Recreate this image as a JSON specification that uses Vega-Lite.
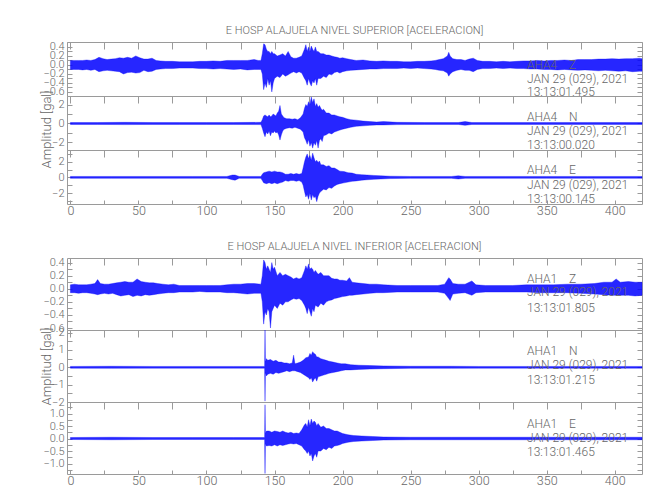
{
"$schema":"https://vega.github.io/schema/vega-lite/v6.json",
"padding":{"left":39,"top":24,"right":7,"bottom":11},
"config":{"view":{"stroke":"#9a9a9a","strokeWidth":1},"font":"Roboto","axis":{"domain":false,"grid":false,"labelFont":"Roboto","labelFontWeight":300,"labelColor":"#666666","labelFontSize":11,"tickColor":"#9a9a9a","titleFont":"Roboto","titleColor":"#666666","titleFontSize":13,"titleFontWeight":300,"labelOverlap":false,"labelFlush":false},"title":{"font":"Roboto","fontSize":11,"fontWeight":300,"color":"#666666","anchor":"middle","offset":5},"text":{"font":"Roboto","fontWeight":300}},
"datasets":{
"uz":[{"t":0,"lo":-0.1,"hi":0.1},{"t":3,"lo":-0.1,"hi":0.1},{"t":6,"lo":-0.1,"hi":0.1},{"t":9,"lo":-0.11,"hi":0.1},{"t":12,"lo":-0.1,"hi":0.11},{"t":15,"lo":-0.12,"hi":0.1},{"t":18,"lo":-0.1,"hi":0.12},{"t":21,"lo":-0.15,"hi":0.17},{"t":24,"lo":-0.13,"hi":0.14},{"t":27,"lo":-0.12,"hi":0.12},{"t":30,"lo":-0.13,"hi":0.13},{"t":33,"lo":-0.14,"hi":0.14},{"t":36,"lo":-0.15,"hi":0.16},{"t":39,"lo":-0.2,"hi":0.15},{"t":42,"lo":-0.17,"hi":0.17},{"t":45,"lo":-0.16,"hi":0.15},{"t":48,"lo":-0.18,"hi":0.2},{"t":51,"lo":-0.17,"hi":0.16},{"t":54,"lo":-0.12,"hi":0.13},{"t":57,"lo":-0.15,"hi":0.13},{"t":60,"lo":-0.14,"hi":0.15},{"t":63,"lo":-0.1,"hi":0.1},{"t":66,"lo":-0.09,"hi":0.09},{"t":70,"lo":-0.08,"hi":0.08},{"t":75,"lo":-0.08,"hi":0.08},{"t":80,"lo":-0.07,"hi":0.07},{"t":85,"lo":-0.07,"hi":0.07},{"t":90,"lo":-0.07,"hi":0.07},{"t":95,"lo":-0.08,"hi":0.08},{"t":100,"lo":-0.08,"hi":0.08},{"t":105,"lo":-0.09,"hi":0.09},{"t":110,"lo":-0.08,"hi":0.08},{"t":115,"lo":-0.09,"hi":0.1},{"t":120,"lo":-0.1,"hi":0.1},{"t":125,"lo":-0.09,"hi":0.1},{"t":130,"lo":-0.11,"hi":0.1},{"t":135,"lo":-0.1,"hi":0.12},{"t":138,"lo":-0.1,"hi":0.1},{"t":140,"lo":-0.1,"hi":0.1},{"t":141,"lo":-0.2,"hi":0.25},{"t":142,"lo":-0.55,"hi":0.47},{"t":143,"lo":-0.4,"hi":0.45},{"t":144,"lo":-0.5,"hi":0.35},{"t":145,"lo":-0.3,"hi":0.3},{"t":146,"lo":-0.45,"hi":0.3},{"t":147,"lo":-0.35,"hi":0.25},{"t":148,"lo":-0.6,"hi":0.3},{"t":149,"lo":-0.4,"hi":0.25},{"t":150,"lo":-0.3,"hi":0.25},{"t":152,"lo":-0.25,"hi":0.2},{"t":154,"lo":-0.28,"hi":0.22},{"t":156,"lo":-0.2,"hi":0.25},{"t":158,"lo":-0.25,"hi":0.2},{"t":160,"lo":-0.22,"hi":0.3},{"t":162,"lo":-0.18,"hi":0.18},{"t":164,"lo":-0.15,"hi":0.15},{"t":166,"lo":-0.18,"hi":0.15},{"t":168,"lo":-0.15,"hi":0.17},{"t":170,"lo":-0.18,"hi":0.2},{"t":172,"lo":-0.3,"hi":0.35},{"t":173,"lo":-0.35,"hi":0.45},{"t":174,"lo":-0.45,"hi":0.3},{"t":175,"lo":-0.3,"hi":0.4},{"t":176,"lo":-0.4,"hi":0.3},{"t":177,"lo":-0.47,"hi":0.42},{"t":178,"lo":-0.35,"hi":0.35},{"t":179,"lo":-0.4,"hi":0.3},{"t":180,"lo":-0.3,"hi":0.4},{"t":181,"lo":-0.45,"hi":0.3},{"t":182,"lo":-0.3,"hi":0.3},{"t":184,"lo":-0.3,"hi":0.25},{"t":186,"lo":-0.25,"hi":0.25},{"t":188,"lo":-0.28,"hi":0.22},{"t":190,"lo":-0.2,"hi":0.22},{"t":192,"lo":-0.22,"hi":0.2},{"t":194,"lo":-0.17,"hi":0.18},{"t":196,"lo":-0.15,"hi":0.17},{"t":198,"lo":-0.18,"hi":0.15},{"t":200,"lo":-0.15,"hi":0.16},{"t":203,"lo":-0.13,"hi":0.14},{"t":206,"lo":-0.12,"hi":0.12},{"t":210,"lo":-0.11,"hi":0.1},{"t":215,"lo":-0.1,"hi":0.11},{"t":220,"lo":-0.09,"hi":0.09},{"t":225,"lo":-0.09,"hi":0.08},{"t":230,"lo":-0.08,"hi":0.09},{"t":235,"lo":-0.08,"hi":0.08},{"t":240,"lo":-0.08,"hi":0.08},{"t":245,"lo":-0.07,"hi":0.07},{"t":250,"lo":-0.08,"hi":0.07},{"t":255,"lo":-0.07,"hi":0.08},{"t":260,"lo":-0.08,"hi":0.08},{"t":265,"lo":-0.09,"hi":0.09},{"t":268,"lo":-0.1,"hi":0.1},{"t":271,"lo":-0.12,"hi":0.12},{"t":274,"lo":-0.13,"hi":0.14},{"t":277,"lo":-0.18,"hi":0.2},{"t":278,"lo":-0.25,"hi":0.28},{"t":279,"lo":-0.2,"hi":0.2},{"t":281,"lo":-0.15,"hi":0.14},{"t":284,"lo":-0.12,"hi":0.12},{"t":287,"lo":-0.1,"hi":0.12},{"t":290,"lo":-0.12,"hi":0.1},{"t":293,"lo":-0.12,"hi":0.13},{"t":296,"lo":-0.15,"hi":0.15},{"t":299,"lo":-0.1,"hi":0.1},{"t":303,"lo":-0.08,"hi":0.08},{"t":308,"lo":-0.08,"hi":0.08},{"t":313,"lo":-0.07,"hi":0.07},{"t":318,"lo":-0.08,"hi":0.08},{"t":323,"lo":-0.07,"hi":0.07},{"t":328,"lo":-0.08,"hi":0.08},{"t":333,"lo":-0.08,"hi":0.09},{"t":338,"lo":-0.09,"hi":0.09},{"t":343,"lo":-0.09,"hi":0.1},{"t":348,"lo":-0.1,"hi":0.09},{"t":353,"lo":-0.1,"hi":0.1},{"t":358,"lo":-0.11,"hi":0.1},{"t":363,"lo":-0.1,"hi":0.11},{"t":368,"lo":-0.11,"hi":0.1},{"t":373,"lo":-0.12,"hi":0.12},{"t":378,"lo":-0.11,"hi":0.12},{"t":383,"lo":-0.12,"hi":0.12},{"t":388,"lo":-0.13,"hi":0.13},{"t":393,"lo":-0.12,"hi":0.13},{"t":398,"lo":-0.13,"hi":0.14},{"t":403,"lo":-0.14,"hi":0.13},{"t":408,"lo":-0.13,"hi":0.14},{"t":413,"lo":-0.15,"hi":0.14},{"t":418,"lo":-0.14,"hi":0.15},{"t":420,"lo":-0.14,"hi":0.14}],
"un":[{"t":0,"lo":-0.1,"hi":0.1},{"t":20,"lo":-0.1,"hi":0.1},{"t":40,"lo":-0.12,"hi":0.12},{"t":60,"lo":-0.1,"hi":0.1},{"t":80,"lo":-0.1,"hi":0.1},{"t":100,"lo":-0.1,"hi":0.1},{"t":120,"lo":-0.1,"hi":0.1},{"t":140,"lo":-0.12,"hi":0.12},{"t":141,"lo":-0.5,"hi":0.4},{"t":142,"lo":-1.0,"hi":0.8},{"t":143,"lo":-1.4,"hi":0.9},{"t":144,"lo":-0.9,"hi":0.8},{"t":145,"lo":-1.1,"hi":0.7},{"t":146,"lo":-0.8,"hi":0.9},{"t":147,"lo":-1.3,"hi":0.7},{"t":148,"lo":-0.9,"hi":0.8},{"t":149,"lo":-1.0,"hi":1.0},{"t":150,"lo":-0.8,"hi":0.9},{"t":151,"lo":-1.0,"hi":0.8},{"t":152,"lo":-0.9,"hi":1.1},{"t":153,"lo":-1.2,"hi":1.3},{"t":154,"lo":-1.75,"hi":1.9},{"t":155,"lo":-1.2,"hi":1.0},{"t":156,"lo":-0.8,"hi":0.8},{"t":157,"lo":-0.6,"hi":0.6},{"t":159,"lo":-0.5,"hi":0.5},{"t":161,"lo":-0.45,"hi":0.5},{"t":163,"lo":-0.5,"hi":0.45},{"t":165,"lo":-0.4,"hi":0.5},{"t":167,"lo":-0.5,"hi":0.4},{"t":169,"lo":-0.6,"hi":0.6},{"t":171,"lo":-0.9,"hi":1.0},{"t":172,"lo":-1.5,"hi":1.6},{"t":173,"lo":-1.8,"hi":2.0},{"t":174,"lo":-2.2,"hi":1.8},{"t":175,"lo":-1.7,"hi":2.3},{"t":176,"lo":-2.4,"hi":2.0},{"t":177,"lo":-2.0,"hi":2.8},{"t":178,"lo":-2.6,"hi":2.2},{"t":179,"lo":-2.0,"hi":2.6},{"t":180,"lo":-2.3,"hi":1.8},{"t":181,"lo":-1.8,"hi":2.1},{"t":182,"lo":-2.6,"hi":1.7},{"t":183,"lo":-1.8,"hi":1.9},{"t":184,"lo":-1.6,"hi":1.6},{"t":185,"lo":-1.9,"hi":1.4},{"t":186,"lo":-1.3,"hi":1.5},{"t":188,"lo":-1.2,"hi":1.1},{"t":190,"lo":-1.0,"hi":1.1},{"t":192,"lo":-1.1,"hi":0.9},{"t":194,"lo":-0.9,"hi":0.9},{"t":196,"lo":-0.8,"hi":0.8},{"t":198,"lo":-0.7,"hi":0.7},{"t":200,"lo":-0.6,"hi":0.65},{"t":203,"lo":-0.5,"hi":0.5},{"t":206,"lo":-0.4,"hi":0.4},{"t":210,"lo":-0.3,"hi":0.35},{"t":215,"lo":-0.25,"hi":0.25},{"t":220,"lo":-0.2,"hi":0.2},{"t":225,"lo":-0.15,"hi":0.15},{"t":230,"lo":-0.15,"hi":0.2},{"t":240,"lo":-0.12,"hi":0.12},{"t":260,"lo":-0.1,"hi":0.1},{"t":285,"lo":-0.1,"hi":0.1},{"t":290,"lo":-0.2,"hi":0.2},{"t":295,"lo":-0.1,"hi":0.1},{"t":320,"lo":-0.1,"hi":0.1},{"t":350,"lo":-0.1,"hi":0.1},{"t":380,"lo":-0.1,"hi":0.1},{"t":420,"lo":-0.1,"hi":0.1}],
"ue":[{"t":0,"lo":-0.12,"hi":0.12},{"t":30,"lo":-0.12,"hi":0.12},{"t":60,"lo":-0.12,"hi":0.12},{"t":90,"lo":-0.12,"hi":0.12},{"t":115,"lo":-0.12,"hi":0.12},{"t":119,"lo":-0.3,"hi":0.3},{"t":121,"lo":-0.35,"hi":0.3},{"t":124,"lo":-0.12,"hi":0.12},{"t":140,"lo":-0.12,"hi":0.12},{"t":141,"lo":-0.4,"hi":0.4},{"t":142,"lo":-0.7,"hi":0.6},{"t":144,"lo":-0.8,"hi":0.7},{"t":146,"lo":-0.7,"hi":0.8},{"t":148,"lo":-0.8,"hi":0.7},{"t":150,"lo":-0.7,"hi":0.8},{"t":152,"lo":-0.8,"hi":0.7},{"t":154,"lo":-0.7,"hi":0.7},{"t":156,"lo":-0.6,"hi":0.6},{"t":158,"lo":-0.4,"hi":0.4},{"t":160,"lo":-0.5,"hi":0.4},{"t":162,"lo":-0.4,"hi":0.5},{"t":164,"lo":-0.4,"hi":0.4},{"t":166,"lo":-0.5,"hi":0.5},{"t":168,"lo":-0.4,"hi":0.4},{"t":170,"lo":-0.6,"hi":0.5},{"t":171,"lo":-1.0,"hi":1.2},{"t":172,"lo":-1.8,"hi":2.0},{"t":173,"lo":-2.5,"hi":2.6},{"t":174,"lo":-2.2,"hi":3.0},{"t":175,"lo":-2.8,"hi":2.4},{"t":176,"lo":-2.0,"hi":2.8},{"t":177,"lo":-2.9,"hi":2.2},{"t":178,"lo":-2.2,"hi":3.1},{"t":179,"lo":-2.6,"hi":2.5},{"t":180,"lo":-2.4,"hi":2.0},{"t":181,"lo":-3.1,"hi":2.2},{"t":182,"lo":-2.4,"hi":1.9},{"t":183,"lo":-2.0,"hi":2.1},{"t":184,"lo":-1.8,"hi":1.6},{"t":186,"lo":-1.5,"hi":1.6},{"t":188,"lo":-1.6,"hi":1.4},{"t":190,"lo":-1.3,"hi":1.5},{"t":192,"lo":-1.4,"hi":1.2},{"t":194,"lo":-1.1,"hi":1.2},{"t":196,"lo":-0.9,"hi":1.0},{"t":198,"lo":-0.8,"hi":0.8},{"t":201,"lo":-0.7,"hi":0.75},{"t":204,"lo":-0.6,"hi":0.6},{"t":207,"lo":-0.5,"hi":0.55},{"t":210,"lo":-0.45,"hi":0.4},{"t":214,"lo":-0.35,"hi":0.35},{"t":218,"lo":-0.3,"hi":0.3},{"t":223,"lo":-0.25,"hi":0.25},{"t":228,"lo":-0.2,"hi":0.2},{"t":235,"lo":-0.15,"hi":0.15},{"t":250,"lo":-0.12,"hi":0.12},{"t":280,"lo":-0.12,"hi":0.12},{"t":285,"lo":-0.2,"hi":0.2},{"t":290,"lo":-0.12,"hi":0.12},{"t":320,"lo":-0.12,"hi":0.12},{"t":350,"lo":-0.12,"hi":0.12},{"t":380,"lo":-0.12,"hi":0.12},{"t":420,"lo":-0.12,"hi":0.12}],
"lz":[{"t":0,"lo":-0.06,"hi":0.06},{"t":3,"lo":-0.06,"hi":0.07},{"t":6,"lo":-0.07,"hi":0.06},{"t":9,"lo":-0.06,"hi":0.06},{"t":12,"lo":-0.06,"hi":0.06},{"t":15,"lo":-0.07,"hi":0.07},{"t":18,"lo":-0.08,"hi":0.08},{"t":20,"lo":-0.09,"hi":0.14},{"t":22,"lo":-0.08,"hi":0.08},{"t":25,"lo":-0.07,"hi":0.07},{"t":28,"lo":-0.08,"hi":0.07},{"t":31,"lo":-0.07,"hi":0.08},{"t":34,"lo":-0.09,"hi":0.09},{"t":37,"lo":-0.11,"hi":0.1},{"t":40,"lo":-0.1,"hi":0.11},{"t":43,"lo":-0.09,"hi":0.1},{"t":46,"lo":-0.12,"hi":0.1},{"t":49,"lo":-0.1,"hi":0.15},{"t":52,"lo":-0.11,"hi":0.11},{"t":55,"lo":-0.09,"hi":0.1},{"t":58,"lo":-0.1,"hi":0.09},{"t":61,"lo":-0.09,"hi":0.09},{"t":64,"lo":-0.08,"hi":0.08},{"t":68,"lo":-0.07,"hi":0.07},{"t":72,"lo":-0.06,"hi":0.06},{"t":76,"lo":-0.06,"hi":0.07},{"t":80,"lo":-0.05,"hi":0.05},{"t":85,"lo":-0.05,"hi":0.05},{"t":90,"lo":-0.05,"hi":0.05},{"t":95,"lo":-0.04,"hi":0.05},{"t":100,"lo":-0.05,"hi":0.05},{"t":105,"lo":-0.05,"hi":0.05},{"t":110,"lo":-0.05,"hi":0.05},{"t":115,"lo":-0.06,"hi":0.06},{"t":120,"lo":-0.06,"hi":0.07},{"t":125,"lo":-0.07,"hi":0.07},{"t":130,"lo":-0.08,"hi":0.08},{"t":135,"lo":-0.07,"hi":0.08},{"t":140,"lo":-0.07,"hi":0.07},{"t":141,"lo":-0.2,"hi":0.2},{"t":142,"lo":-0.54,"hi":0.44},{"t":143,"lo":-0.35,"hi":0.4},{"t":144,"lo":-0.4,"hi":0.3},{"t":145,"lo":-0.3,"hi":0.35},{"t":146,"lo":-0.35,"hi":0.3},{"t":147,"lo":-0.6,"hi":0.25},{"t":148,"lo":-0.35,"hi":0.4},{"t":149,"lo":-0.3,"hi":0.3},{"t":150,"lo":-0.25,"hi":0.33},{"t":152,"lo":-0.3,"hi":0.2},{"t":154,"lo":-0.22,"hi":0.25},{"t":156,"lo":-0.25,"hi":0.2},{"t":158,"lo":-0.2,"hi":0.22},{"t":160,"lo":-0.2,"hi":0.2},{"t":162,"lo":-0.17,"hi":0.18},{"t":164,"lo":-0.15,"hi":0.15},{"t":166,"lo":-0.16,"hi":0.17},{"t":168,"lo":-0.15,"hi":0.15},{"t":170,"lo":-0.18,"hi":0.17},{"t":172,"lo":-0.25,"hi":0.28},{"t":173,"lo":-0.3,"hi":0.35},{"t":174,"lo":-0.38,"hi":0.3},{"t":175,"lo":-0.28,"hi":0.38},{"t":176,"lo":-0.35,"hi":0.3},{"t":177,"lo":-0.42,"hi":0.32},{"t":178,"lo":-0.3,"hi":0.3},{"t":179,"lo":-0.35,"hi":0.25},{"t":180,"lo":-0.25,"hi":0.28},{"t":182,"lo":-0.28,"hi":0.22},{"t":184,"lo":-0.22,"hi":0.25},{"t":186,"lo":-0.25,"hi":0.2},{"t":188,"lo":-0.2,"hi":0.2},{"t":190,"lo":-0.18,"hi":0.2},{"t":192,"lo":-0.17,"hi":0.16},{"t":194,"lo":-0.15,"hi":0.15},{"t":196,"lo":-0.14,"hi":0.15},{"t":198,"lo":-0.13,"hi":0.13},{"t":200,"lo":-0.12,"hi":0.13},{"t":203,"lo":-0.11,"hi":0.12},{"t":205,"lo":-0.1,"hi":0.17},{"t":207,"lo":-0.1,"hi":0.1},{"t":210,"lo":-0.09,"hi":0.09},{"t":215,"lo":-0.08,"hi":0.08},{"t":220,"lo":-0.07,"hi":0.07},{"t":225,"lo":-0.06,"hi":0.07},{"t":230,"lo":-0.06,"hi":0.06},{"t":240,"lo":-0.05,"hi":0.05},{"t":250,"lo":-0.05,"hi":0.05},{"t":260,"lo":-0.05,"hi":0.05},{"t":270,"lo":-0.05,"hi":0.05},{"t":275,"lo":-0.07,"hi":0.07},{"t":278,"lo":-0.15,"hi":0.17},{"t":279,"lo":-0.18,"hi":0.15},{"t":281,"lo":-0.08,"hi":0.08},{"t":285,"lo":-0.07,"hi":0.07},{"t":290,"lo":-0.06,"hi":0.07},{"t":295,"lo":-0.1,"hi":0.12},{"t":298,"lo":-0.06,"hi":0.06},{"t":305,"lo":-0.05,"hi":0.05},{"t":315,"lo":-0.05,"hi":0.05},{"t":325,"lo":-0.05,"hi":0.05},{"t":335,"lo":-0.05,"hi":0.06},{"t":345,"lo":-0.06,"hi":0.06},{"t":355,"lo":-0.06,"hi":0.06},{"t":365,"lo":-0.06,"hi":0.07},{"t":375,"lo":-0.07,"hi":0.07},{"t":385,"lo":-0.08,"hi":0.08},{"t":392,"lo":-0.09,"hi":0.1},{"t":398,"lo":-0.1,"hi":0.1},{"t":401,"lo":-0.1,"hi":0.15},{"t":404,"lo":-0.1,"hi":0.1},{"t":410,"lo":-0.1,"hi":0.11},{"t":415,"lo":-0.11,"hi":0.1},{"t":420,"lo":-0.1,"hi":0.1}],
"ln":[{"t":0,"lo":-0.05,"hi":0.05},{"t":30,"lo":-0.06,"hi":0.06},{"t":60,"lo":-0.05,"hi":0.05},{"t":90,"lo":-0.05,"hi":0.05},{"t":120,"lo":-0.05,"hi":0.05},{"t":142.7,"lo":-0.05,"hi":0.05},{"t":143,"lo":-1.95,"hi":2.15},{"t":143.3,"lo":-0.3,"hi":0.3},{"t":144,"lo":-0.5,"hi":0.5},{"t":145,"lo":-0.4,"hi":0.4},{"t":147,"lo":-0.35,"hi":0.45},{"t":149,"lo":-0.4,"hi":0.35},{"t":151,"lo":-0.3,"hi":0.4},{"t":153,"lo":-0.35,"hi":0.3},{"t":155,"lo":-0.3,"hi":0.3},{"t":157,"lo":-0.25,"hi":0.25},{"t":159,"lo":-0.2,"hi":0.25},{"t":161,"lo":-0.25,"hi":0.2},{"t":163,"lo":-0.2,"hi":0.25},{"t":164,"lo":-0.2,"hi":0.7},{"t":165,"lo":-0.2,"hi":0.2},{"t":167,"lo":-0.25,"hi":0.25},{"t":169,"lo":-0.3,"hi":0.3},{"t":171,"lo":-0.4,"hi":0.4},{"t":173,"lo":-0.5,"hi":0.55},{"t":175,"lo":-0.6,"hi":0.6},{"t":176,"lo":-0.7,"hi":0.8},{"t":177,"lo":-0.6,"hi":0.7},{"t":178,"lo":-0.85,"hi":0.9},{"t":179,"lo":-0.7,"hi":0.8},{"t":180,"lo":-0.6,"hi":0.75},{"t":181,"lo":-0.8,"hi":0.6},{"t":182,"lo":-0.55,"hi":0.6},{"t":184,"lo":-0.5,"hi":0.5},{"t":186,"lo":-0.45,"hi":0.45},{"t":188,"lo":-0.4,"hi":0.4},{"t":190,"lo":-0.35,"hi":0.35},{"t":193,"lo":-0.3,"hi":0.3},{"t":196,"lo":-0.25,"hi":0.25},{"t":199,"lo":-0.2,"hi":0.2},{"t":202,"lo":-0.15,"hi":0.2},{"t":206,"lo":-0.15,"hi":0.15},{"t":212,"lo":-0.12,"hi":0.12},{"t":220,"lo":-0.1,"hi":0.1},{"t":230,"lo":-0.08,"hi":0.08},{"t":250,"lo":-0.06,"hi":0.06},{"t":280,"lo":-0.06,"hi":0.06},{"t":300,"lo":-0.05,"hi":0.05},{"t":350,"lo":-0.05,"hi":0.05},{"t":420,"lo":-0.05,"hi":0.05}],
"le":[{"t":0,"lo":-0.04,"hi":0.04},{"t":30,"lo":-0.05,"hi":0.05},{"t":60,"lo":-0.04,"hi":0.04},{"t":90,"lo":-0.04,"hi":0.04},{"t":120,"lo":-0.04,"hi":0.04},{"t":142.7,"lo":-0.04,"hi":0.04},{"t":143,"lo":-1.4,"hi":1.35},{"t":143.3,"lo":-0.2,"hi":0.2},{"t":144,"lo":-0.3,"hi":0.3},{"t":146,"lo":-0.28,"hi":0.3},{"t":148,"lo":-0.3,"hi":0.25},{"t":150,"lo":-0.25,"hi":0.3},{"t":152,"lo":-0.3,"hi":0.28},{"t":154,"lo":-0.25,"hi":0.25},{"t":156,"lo":-0.28,"hi":0.3},{"t":158,"lo":-0.25,"hi":0.25},{"t":160,"lo":-0.22,"hi":0.22},{"t":162,"lo":-0.2,"hi":0.25},{"t":164,"lo":-0.22,"hi":0.2},{"t":166,"lo":-0.2,"hi":0.22},{"t":168,"lo":-0.25,"hi":0.2},{"t":170,"lo":-0.3,"hi":0.35},{"t":172,"lo":-0.45,"hi":0.55},{"t":173,"lo":-0.5,"hi":0.6},{"t":174,"lo":-0.6,"hi":0.45},{"t":175,"lo":-0.5,"hi":0.75},{"t":176,"lo":-0.7,"hi":0.5},{"t":177,"lo":-0.6,"hi":0.78},{"t":178,"lo":-0.9,"hi":0.6},{"t":179,"lo":-0.7,"hi":0.7},{"t":180,"lo":-0.6,"hi":0.65},{"t":181,"lo":-0.75,"hi":0.5},{"t":182,"lo":-0.5,"hi":0.6},{"t":184,"lo":-0.5,"hi":0.45},{"t":186,"lo":-0.4,"hi":0.5},{"t":188,"lo":-0.45,"hi":0.4},{"t":190,"lo":-0.35,"hi":0.4},{"t":192,"lo":-0.4,"hi":0.35},{"t":194,"lo":-0.3,"hi":0.3},{"t":196,"lo":-0.28,"hi":0.3},{"t":198,"lo":-0.25,"hi":0.25},{"t":200,"lo":-0.2,"hi":0.2},{"t":204,"lo":-0.15,"hi":0.15},{"t":208,"lo":-0.12,"hi":0.12},{"t":214,"lo":-0.1,"hi":0.1},{"t":222,"lo":-0.08,"hi":0.08},{"t":230,"lo":-0.06,"hi":0.06},{"t":250,"lo":-0.05,"hi":0.05},{"t":280,"lo":-0.05,"hi":0.05},{"t":310,"lo":-0.05,"hi":0.05},{"t":350,"lo":-0.05,"hi":0.05},{"t":420,"lo":-0.05,"hi":0.05}],
"blank":[],
"labels":[
{"p":"uz","t":335.5,"y":0.01,"s":"AHA4\u00a0\u00a0\u00a0\u00a0Z"},{"p":"uz","t":335.5,"y":-0.31,"s":"JAN 29 (029), 2021"},{"p":"uz","t":335.5,"y":-0.6,"s":"13:13:01.495"},
{"p":"un","t":335.5,"y":0.67,"s":"AHA4\u00a0\u00a0\u00a0\u00a0N"},{"p":"un","t":335.5,"y":-0.77,"s":"JAN 29 (029), 2021"},{"p":"un","t":335.5,"y":-2.24,"s":"13:13:00.020"},
{"p":"ue","t":335.5,"y":0.89,"s":"AHA4\u00a0\u00a0\u00a0\u00a0E"},{"p":"ue","t":335.5,"y":-1.02,"s":"JAN 29 (029), 2021"},{"p":"ue","t":335.5,"y":-2.8,"s":"13:13:00.145"},
{"p":"lz","t":335.5,"y":0.145,"s":"AHA1\u00a0\u00a0\u00a0\u00a0Z"},{"p":"lz","t":335.5,"y":-0.05,"s":"JAN 29 (029), 2021"},{"p":"lz","t":335.5,"y":-0.3,"s":"13:13:01.805"},
{"p":"ln","t":335.5,"y":0.94,"s":"AHA1\u00a0\u00a0\u00a0\u00a0N"},{"p":"ln","t":335.5,"y":0.11,"s":"JAN 29 (029), 2021"},{"p":"ln","t":335.5,"y":-0.74,"s":"13:13:01.215"},
{"p":"le","t":335.5,"y":0.57,"s":"AHA1\u00a0\u00a0\u00a0\u00a0E"},{"p":"le","t":335.5,"y":0.04,"s":"JAN 29 (029), 2021"},{"p":"le","t":335.5,"y":-0.55,"s":"13:13:01.465"}]
},
"bounds":"flush","spacing":0,
"vconcat":[
 {"title":"E HOSP ALAJUELA NIVEL SUPERIOR [ACELERACION]","width":575,"height":54,"resolve":{"axis":{"x":"independent","y":"independent"}},"layer":[
  {"data":{"name":"uz"},"mark":{"type":"area","fill":"#0000ff","fillOpacity":0.85,"stroke":"#0000ff","strokeWidth":0.5,"strokeOpacity":0.7},
   "encoding":{"x":{"field":"t","type":"quantitative","scale":{"domain":[-2.5,420],"nice":false,"zero":false},"axis":{"orient":"top","values":[0,25,50,75,100,125,150,175,200,225,250,275,300,325,350,375,400],"labels":false,"tickSize":-7,"title":null}},
    "y":{"field":"lo","type":"quantitative","scale":{"domain":[-0.69,0.51],"nice":false,"zero":false},"axis":{"orient":"left","values":[-0.6,-0.4,-0.2,0,0.2,0.4],"format":".1f","ticks":false,"labelPadding":3,"title":null}},"y2":{"field":"hi"}}},
  {"mark":{"type":"rule","color":"#0000ff","strokeWidth":1},"encoding":{"y":{"datum":0,"type":"quantitative","axis":{"orient":"left","values":[-0.6,-0.5,-0.4,-0.3,-0.2,-0.1,0,0.1,0.2,0.3,0.4,0.5],"labels":false,"tickSize":-5,"title":null}}}},
  {"data":{"name":"labels"},"transform":[{"filter":"datum.p==='uz'"}],"mark":{"type":"text","align":"left","baseline":"middle","fontSize":12,"color":"#666666"},
   "encoding":{"x":{"field":"t","type":"quantitative","axis":null},"y":{"field":"y","type":"quantitative","axis":{"orient":"right","values":[-0.6,-0.5,-0.4,-0.3,-0.2,-0.1,0,0.1,0.2,0.3,0.4,0.5],"labels":false,"tickSize":-5,"title":null}},"text":{"field":"s"}}}]},
 {"width":575,"height":54,"resolve":{"axis":{"x":"independent","y":"independent"}},"layer":[
  {"data":{"name":"un"},"mark":{"type":"area","fill":"#0000ff","fillOpacity":0.85,"stroke":"#0000ff","strokeWidth":0.5,"strokeOpacity":0.7},
   "encoding":{"x":{"field":"t","type":"quantitative","scale":{"domain":[-2.5,420],"nice":false,"zero":false},"axis":{"orient":"top","values":[0,25,50,75,100,125,150,175,200,225,250,275,300,325,350,375,400],"labels":false,"tickSize":-7,"title":null}},
    "y":{"field":"lo","type":"quantitative","scale":{"domain":[-2.8,2.9],"nice":false,"zero":false},"axis":{"orient":"left","values":[-2,0,2],"format":"d","ticks":false,"labelPadding":3,"title":"Amplitud [gal]","titleX":-14,"titleY":33}},"y2":{"field":"hi"}}},
  {"mark":{"type":"rule","color":"#0000ff","strokeWidth":1},"encoding":{"y":{"datum":0,"type":"quantitative","axis":{"orient":"left","values":[-2,-1,0,1,2],"labels":false,"tickSize":-5,"title":null}}}},
  {"data":{"name":"labels"},"transform":[{"filter":"datum.p==='un'"}],"mark":{"type":"text","align":"left","baseline":"middle","fontSize":12,"color":"#666666"},
   "encoding":{"x":{"field":"t","type":"quantitative","axis":null},"y":{"field":"y","type":"quantitative","axis":{"orient":"right","values":[-2,-1,0,1,2],"labels":false,"tickSize":-5,"title":null}},"text":{"field":"s"}}}]},
 {"width":575,"height":54,"resolve":{"axis":{"x":"independent","y":"independent"}},"layer":[
  {"data":{"name":"ue"},"mark":{"type":"area","fill":"#0000ff","fillOpacity":0.85,"stroke":"#0000ff","strokeWidth":0.5,"strokeOpacity":0.7},
   "encoding":{"x":{"field":"t","type":"quantitative","scale":{"domain":[-2.5,420],"nice":false,"zero":false},"axis":{"orient":"top","values":[0,25,50,75,100,125,150,175,200,225,250,275,300,325,350,375,400],"labels":false,"tickSize":-7,"title":null}},
    "y":{"field":"lo","type":"quantitative","scale":{"domain":[-3.4,3.5],"nice":false,"zero":false},"axis":{"orient":"left","values":[-2,0,2],"format":"d","ticks":false,"labelPadding":3,"title":null}},"y2":{"field":"hi"}}},
  {"mark":{"type":"rule","color":"#0000ff","strokeWidth":1},"encoding":{"y":{"datum":0,"type":"quantitative","axis":{"orient":"left","values":[-3,-2,-1,0,1,2,3],"labels":false,"tickSize":-5,"title":null}}}},
  {"data":{"name":"labels"},"transform":[{"filter":"datum.p==='ue'"}],"mark":{"type":"text","align":"left","baseline":"middle","fontSize":12,"color":"#666666"},
   "encoding":{"x":{"field":"t","type":"quantitative","axis":{"orient":"bottom","values":[0,25,50,75,100,125,150,175,200,225,250,275,300,325,350,375,400],"labelExpr":"datum.value % 50 === 0 ? datum.label : ''","tickSize":-4,"labelPadding":4,"labelFontSize":12.5,"title":null}},"y":{"field":"y","type":"quantitative","axis":{"orient":"right","values":[-3,-2,-1,0,1,2,3],"labels":false,"tickSize":-5,"title":null}},"text":{"field":"s"}}}]},
 {"width":575,"height":54,"view":{"stroke":null},"data":{"name":"blank"},"mark":"point","encoding":{}},
 {"title":"E HOSP ALAJUELA NIVEL INFERIOR [ACELERACION]","width":575,"height":72,"resolve":{"axis":{"x":"independent","y":"independent"}},"layer":[
  {"data":{"name":"lz"},"mark":{"type":"area","fill":"#0000ff","fillOpacity":0.85,"stroke":"#0000ff","strokeWidth":0.5,"strokeOpacity":0.7},
   "encoding":{"x":{"field":"t","type":"quantitative","scale":{"domain":[-2.5,420],"nice":false,"zero":false},"axis":{"orient":"top","values":[0,25,50,75,100,125,150,175,200,225,250,275,300,325,350,375,400],"labels":false,"tickSize":-7,"title":null}},
    "y":{"field":"lo","type":"quantitative","scale":{"domain":[-0.63,0.47],"nice":false,"zero":false},"axis":{"orient":"left","values":[-0.6,-0.4,-0.2,0,0.2,0.4],"format":".1f","ticks":false,"labelPadding":3,"title":null}},"y2":{"field":"hi"}}},
  {"mark":{"type":"rule","color":"#0000ff","strokeWidth":1},"encoding":{"y":{"datum":0,"type":"quantitative","axis":{"orient":"left","values":[-0.6,-0.5,-0.4,-0.3,-0.2,-0.1,0,0.1,0.2,0.3,0.4],"labels":false,"tickSize":-5,"title":null}}}},
  {"data":{"name":"labels"},"transform":[{"filter":"datum.p==='lz'"}],"mark":{"type":"text","align":"left","baseline":"middle","fontSize":12,"color":"#666666"},
   "encoding":{"x":{"field":"t","type":"quantitative","axis":null},"y":{"field":"y","type":"quantitative","axis":{"orient":"right","values":[-0.6,-0.5,-0.4,-0.3,-0.2,-0.1,0,0.1,0.2,0.3,0.4],"labels":false,"tickSize":-5,"title":null}},"text":{"field":"s"}}}]},
 {"width":575,"height":72,"resolve":{"axis":{"x":"independent","y":"independent"}},"layer":[
  {"data":{"name":"ln"},"mark":{"type":"area","fill":"#0000ff","fillOpacity":0.85,"stroke":"#0000ff","strokeWidth":0.5,"strokeOpacity":0.7},
   "encoding":{"x":{"field":"t","type":"quantitative","scale":{"domain":[-2.5,420],"nice":false,"zero":false},"axis":{"orient":"top","values":[0,25,50,75,100,125,150,175,200,225,250,275,300,325,350,375,400],"labels":false,"tickSize":-7,"title":null}},
    "y":{"field":"lo","type":"quantitative","scale":{"domain":[-2.0,2.15],"nice":false,"zero":false},"axis":{"orient":"left","values":[-2,-1,0,1,2],"format":"d","ticks":false,"labelPadding":3,"title":"Amplitud [gal]","titleX":-14,"titleY":36}},"y2":{"field":"hi"}}},
  {"mark":{"type":"rule","color":"#0000ff","strokeWidth":1},"encoding":{"y":{"datum":0,"type":"quantitative","axis":{"orient":"left","values":[-2,-1.5,-1,-0.5,0,0.5,1,1.5,2],"labels":false,"tickSize":-5,"title":null}}}},
  {"data":{"name":"labels"},"transform":[{"filter":"datum.p==='ln'"}],"mark":{"type":"text","align":"left","baseline":"middle","fontSize":12,"color":"#666666"},
   "encoding":{"x":{"field":"t","type":"quantitative","axis":null},"y":{"field":"y","type":"quantitative","axis":{"orient":"right","values":[-2,-1.5,-1,-0.5,0,0.5,1,1.5,2],"labels":false,"tickSize":-5,"title":null}},"text":{"field":"s"}}}]},
 {"width":575,"height":72,"resolve":{"axis":{"x":"independent","y":"independent"}},"layer":[
  {"data":{"name":"le"},"mark":{"type":"area","fill":"#0000ff","fillOpacity":0.85,"stroke":"#0000ff","strokeWidth":0.5,"strokeOpacity":0.7},
   "encoding":{"x":{"field":"t","type":"quantitative","scale":{"domain":[-2.5,420],"nice":false,"zero":false},"axis":{"orient":"top","values":[0,25,50,75,100,125,150,175,200,225,250,275,300,325,350,375,400],"labels":false,"tickSize":-7,"title":null}},
    "y":{"field":"lo","type":"quantitative","scale":{"domain":[-1.42,1.46],"nice":false,"zero":false},"axis":{"orient":"left","values":[-1,-0.5,0,0.5,1],"format":".1f","ticks":false,"labelPadding":3,"title":null}},"y2":{"field":"hi"}}},
  {"mark":{"type":"rule","color":"#0000ff","strokeWidth":1},"encoding":{"y":{"datum":0,"type":"quantitative","axis":{"orient":"left","values":[-1.25,-1,-0.75,-0.5,-0.25,0,0.25,0.5,0.75,1,1.25],"labels":false,"tickSize":-5,"title":null}}}},
  {"data":{"name":"labels"},"transform":[{"filter":"datum.p==='le'"}],"mark":{"type":"text","align":"left","baseline":"middle","fontSize":12,"color":"#666666"},
   "encoding":{"x":{"field":"t","type":"quantitative","axis":{"orient":"bottom","values":[0,25,50,75,100,125,150,175,200,225,250,275,300,325,350,375,400],"labelExpr":"datum.value % 50 === 0 ? datum.label : ''","tickSize":-4,"labelPadding":4,"labelFontSize":12.5,"title":null}},"y":{"field":"y","type":"quantitative","axis":{"orient":"right","values":[-1.25,-1,-0.75,-0.5,-0.25,0,0.25,0.5,0.75,1,1.25],"labels":false,"tickSize":-5,"title":null}},"text":{"field":"s"}}}]}
]
}
